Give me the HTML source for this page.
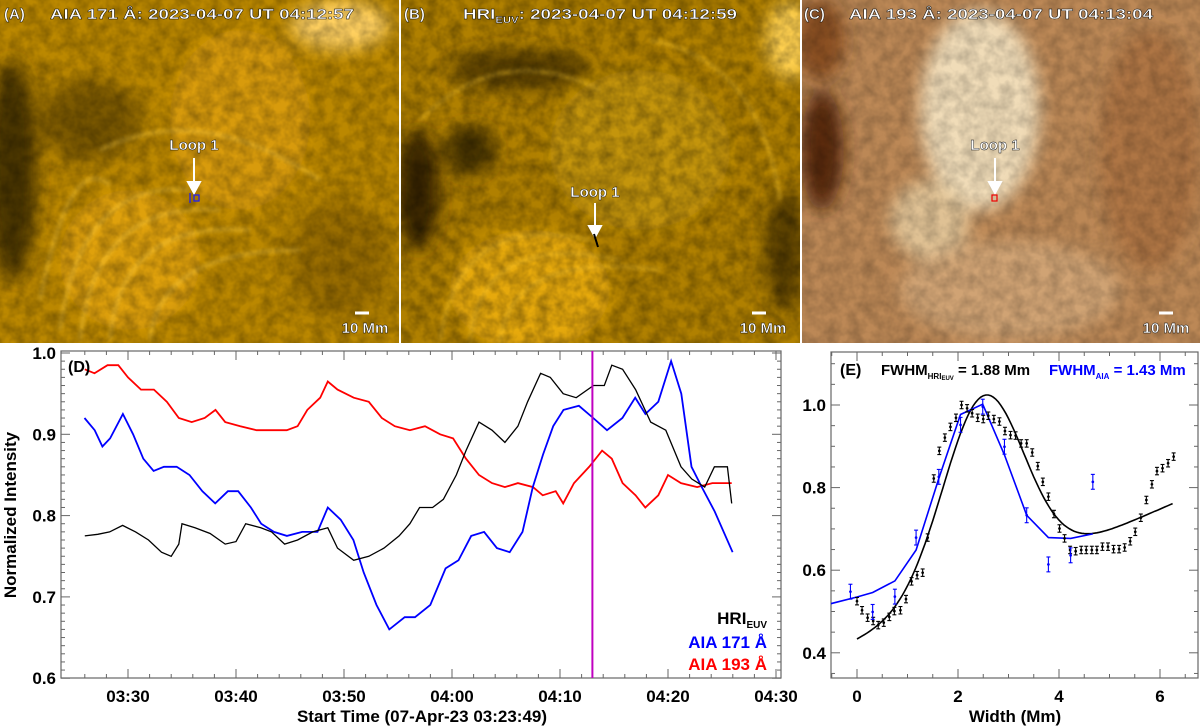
<!DOCTYPE html>
<html><head><meta charset="utf-8"><style>
html,body{margin:0;padding:0;background:#fff;}
svg{display:block;font-family:"Liberation Sans",sans-serif;font-weight:bold;}
</style></head><body>
<svg id="fig" width="1200" height="726" viewBox="0 0 1200 726">
<defs>
<filter id="blur8"><feGaussianBlur stdDeviation="8"/></filter>
<filter id="blur3"><feGaussianBlur stdDeviation="2"/></filter>
<filter id="tex" x="0" y="0" width="100%" height="100%"><feTurbulence type="fractalNoise" baseFrequency="0.08" numOctaves="3" seed="3"/><feColorMatrix type="matrix" values="0 0 0 0 0  0 0 0 0 0  0 0 0 0 0  0 0 0 -1.4 1.0"/></filter>
<clipPath id="cA"><rect x="0" y="0" width="399" height="343"/></clipPath>
<clipPath id="cB"><rect x="401" y="0" width="399" height="343"/></clipPath>
<clipPath id="cC"><rect x="802" y="0" width="398" height="343"/></clipPath>
<clipPath id="cD"><rect x="61" y="351" width="720" height="327"/></clipPath>
<clipPath id="cE"><rect x="831" y="352" width="367" height="326"/></clipPath>
</defs>

<!-- Panel A -->
<g clip-path="url(#cA)">
<rect x="0" y="0" width="399" height="343" fill="#bb8800"/>
<g filter="url(#blur8)">
<ellipse cx="12" cy="170" rx="25" ry="110" fill="#4a3400"/>
<ellipse cx="90" cy="120" rx="50" ry="40" fill="#7a5800"/>
<ellipse cx="340" cy="260" rx="50" ry="60" fill="#8a6200" opacity="0.7"/>
<ellipse cx="340" cy="25" rx="50" ry="25" fill="#ffd060"/>
<ellipse cx="240" cy="120" rx="70" ry="90" fill="#e0a010" opacity="0.8"/>
<ellipse cx="130" cy="260" rx="70" ry="70" fill="#e8a810" opacity="0.8"/>
</g>
<g fill="none" stroke="#ffd24a" stroke-width="3" opacity="0.55" filter="url(#blur3)">
<path d="M60 330 Q80 180 190 190"/><path d="M80 340 Q95 200 220 210"/><path d="M110 340 Q120 220 250 230"/>
<path d="M40 300 Q70 150 110 185"/><path d="M150 340 Q160 250 300 250"/><path d="M100 150 Q200 100 320 180"/>
</g>
<rect x="0" y="0" width="399" height="343" filter="url(#tex)" opacity="0.35"/>
</g>

<!-- Panel B -->
<g clip-path="url(#cB)">
<rect x="401" y="0" width="399" height="343" fill="#b08000"/>
<g filter="url(#blur8)">
<ellipse cx="418" cy="190" rx="22" ry="60" fill="#3a2800"/>
<ellipse cx="520" cy="70" rx="70" ry="20" fill="#5a4000"/>
<ellipse cx="470" cy="150" rx="25" ry="25" fill="#4a3400"/>
<ellipse cx="785" cy="250" rx="20" ry="60" fill="#5a4000"/>
<ellipse cx="790" cy="40" rx="25" ry="40" fill="#ffd050"/>
<ellipse cx="640" cy="150" rx="90" ry="80" fill="#c99a10" opacity="0.8"/>
<ellipse cx="530" cy="290" rx="80" ry="60" fill="#f0b010" opacity="0.85"/>
</g>
<g fill="none" stroke="#ffcc30" stroke-width="3" opacity="0.55" filter="url(#blur3)">
<path d="M440 340 Q460 210 590 240"/><path d="M470 343 Q480 230 620 260"/><path d="M500 343 Q510 250 660 270"/>
<path d="M420 120 Q500 40 600 90"/><path d="M650 40 Q760 60 780 200"/>
</g>
<rect x="401" y="0" width="399" height="343" filter="url(#tex)" opacity="0.4"/>
</g>

<!-- Panel C -->
<g clip-path="url(#cC)">
<rect x="802" y="0" width="398" height="343" fill="#bc8856"/>
<g filter="url(#blur8)">
<ellipse cx="822" cy="150" rx="22" ry="60" fill="#5a2a08"/>
<ellipse cx="820" cy="40" rx="25" ry="40" fill="#8a5020"/>
<ellipse cx="980" cy="110" rx="60" ry="100" fill="#f0dcb8"/>
<ellipse cx="930" cy="220" rx="40" ry="40" fill="#e8cfa4" opacity="0.8"/>
<ellipse cx="1150" cy="150" rx="50" ry="120" fill="#a86c3c" opacity="0.7"/>
<ellipse cx="1010" cy="290" rx="110" ry="50" fill="#d4aa7c" opacity="0.8"/>
</g>
<rect x="802" y="0" width="398" height="343" filter="url(#tex)" opacity="0.25"/>
</g>

<!-- image annotations -->
<g fill="#fff" stroke="#000" stroke-width="0.4" font-size="15">
<text x="4" y="19">(A)</text>
<text x="50" y="19" textLength="304" lengthAdjust="spacingAndGlyphs">AIA 171 Å: 2023-04-07 UT 04:12:57</text>
<text x="404" y="19">(B)</text>
<text x="463" y="19" textLength="274" lengthAdjust="spacingAndGlyphs">HRI<tspan font-size="9" dy="4">EUV</tspan><tspan dy="-4">: 2023-04-07 UT 04:12:59</tspan></text>
<text x="804" y="19">(C)</text>
<text x="849" y="19" textLength="304" lengthAdjust="spacingAndGlyphs">AIA 193 Å: 2023-04-07 UT 04:13:04</text>
<text x="194" y="150" text-anchor="middle">Loop 1</text>
<text x="595" y="197" text-anchor="middle">Loop 1</text>
<text x="995" y="150" text-anchor="middle">Loop 1</text>
<text x="365" y="333" text-anchor="middle">10 Mm</text>
<text x="763" y="333" text-anchor="middle">10 Mm</text>
<text x="1166" y="333" text-anchor="middle">10 Mm</text>
</g>
<g stroke="#fff" stroke-width="2" fill="#fff">
<line x1="194" y1="158" x2="194" y2="184"/><polygon points="188,182 200,182 194,193"/>
<line x1="595" y1="203" x2="595" y2="228"/><polygon points="589,226 601,226 595,237"/>
<line x1="995" y1="158" x2="995" y2="184"/><polygon points="989,182 1001,182 995,193"/>
<line x1="355" y1="313" x2="369" y2="313" stroke-width="3"/>
<line x1="752" y1="313" x2="766" y2="313" stroke-width="3"/>
<line x1="1159" y1="313" x2="1173" y2="313" stroke-width="3"/>
</g>
<rect x="194" y="195" width="5" height="6" fill="none" stroke="#1a1aff" stroke-width="1.2"/>
<line x1="190" y1="193" x2="190" y2="203" stroke="#1a1aff" stroke-width="1.2"/>
<line x1="594" y1="234" x2="598" y2="247" stroke="#000" stroke-width="2"/>
<rect x="992" y="195" width="5" height="6" fill="none" stroke="#e00" stroke-width="1.2"/>

<g id="chartD"></g>
<g id="chartE"></g>
</svg>
<script>
// ---------- Panel D data (time in minutes after 03:00) ----------
const hriT = [26.0,27.2,28.3,29.5,30.7,31.9,33.1,34.0,34.7,35.0,36.2,37.6,39.0,40.0,40.9,42.3,43.3,44.5,45.7,47.1,48.5,49.4,50.9,52.3,53.7,55.1,56.1,57.0,58.2,59.2,60.4,61.3,62.5,63.7,64.9,66.1,67.0,68.2,69.1,70.3,71.5,73.1,74.1,74.8,75.8,77.0,78.4,79.8,81.2,82.2,83.4,84.3,85.5,85.9];
const hriV = [0.775,0.777,0.78,0.788,0.78,0.77,0.755,0.75,0.765,0.79,0.785,0.778,0.765,0.768,0.79,0.785,0.78,0.765,0.77,0.78,0.785,0.76,0.745,0.75,0.76,0.775,0.79,0.81,0.81,0.82,0.85,0.88,0.915,0.905,0.89,0.91,0.94,0.975,0.97,0.95,0.945,0.96,0.96,0.985,0.98,0.955,0.915,0.905,0.86,0.845,0.835,0.86,0.86,0.815];
const a171T = [25.97,26.92,27.63,28.34,29.53,30.47,31.42,32.37,33.32,34.51,35.69,36.88,38.07,39.25,40.2,41.38,42.33,43.52,44.71,46.13,47.55,48.5,49.69,50.87,51.82,53.01,54.19,55.62,56.57,57.99,59.41,60.6,61.78,62.97,64.16,65.34,66.53,67.48,68.43,69.37,70.32,71.75,73.07,74.35,75.78,76.96,77.91,79.1,80.29,81.23,82.18,83.13,84.32,85.98];
const a171V = [0.92,0.905,0.885,0.895,0.925,0.9,0.87,0.855,0.86,0.86,0.85,0.83,0.815,0.83,0.83,0.81,0.79,0.78,0.775,0.78,0.78,0.81,0.795,0.77,0.73,0.69,0.66,0.675,0.675,0.69,0.735,0.745,0.775,0.78,0.76,0.755,0.78,0.835,0.875,0.91,0.93,0.935,0.92,0.905,0.92,0.945,0.925,0.94,0.99,0.95,0.86,0.835,0.805,0.755];
const a193T = [26.0,26.9,28.1,29.1,30.0,31.2,32.4,33.6,34.7,35.9,37.1,38.1,39.0,40.4,41.9,43.3,44.7,45.7,46.6,47.8,48.5,49.4,50.9,52.3,53.5,54.7,56.1,57.5,58.9,60.1,61.3,62.5,63.7,64.9,66.1,67.5,68.4,69.6,70.3,71.3,72.7,73.9,74.8,75.8,77.0,77.9,79.1,80.0,81.2,82.7,84.1,85.9];
const a193V = [0.98,0.975,0.985,0.985,0.97,0.955,0.955,0.94,0.92,0.915,0.92,0.93,0.915,0.91,0.905,0.905,0.905,0.91,0.93,0.945,0.965,0.955,0.945,0.94,0.92,0.91,0.905,0.91,0.9,0.895,0.87,0.85,0.84,0.835,0.84,0.835,0.825,0.83,0.815,0.84,0.86,0.88,0.87,0.84,0.825,0.81,0.825,0.85,0.84,0.835,0.84,0.84];
const dTickT = [30,40,50,60,70,80,90];
const dTickLabels = ["03:30","03:40","03:50","04:00","04:10","04:20","04:30"];
const dYTicks = [0.6,0.7,0.8,0.9,1.0];
const dYLabels = ["0.6","0.7","0.8","0.9","1.0"];
const markerT = [73.0];

// ---------- Panel E data ----------
const hriW = [0,0.1,0.21,0.32,0.42,0.53,0.64,0.74,0.86,0.97,1.08,1.19,1.3,1.4,1.52,1.63,1.74,1.85,1.96,2.07,2.18,2.28,2.39,2.5,2.6,2.71,2.82,2.93,3.04,3.14,3.25,3.36,3.47,3.58,3.68,3.79,3.9,4.01,4.11,4.22,4.33,4.44,4.54,4.65,4.75,4.86,4.97,5.08,5.19,5.3,5.41,5.51,5.62,5.73,5.84,5.94,6.05,6.16,6.27];
const hriI = [0.525,0.503,0.485,0.477,0.467,0.473,0.487,0.501,0.503,0.53,0.573,0.588,0.594,0.679,0.822,0.889,0.921,0.947,0.969,1.0,0.992,0.98,0.969,0.966,0.974,0.966,0.96,0.937,0.927,0.926,0.907,0.907,0.885,0.852,0.814,0.778,0.736,0.701,0.677,0.649,0.646,0.649,0.649,0.649,0.649,0.657,0.657,0.651,0.651,0.655,0.67,0.693,0.727,0.77,0.808,0.84,0.847,0.859,0.875];
const aiaW = [-0.13,0.31,0.75,1.17,1.62,2.05,2.49,2.92,3.36,3.79,4.23,4.67];
const aiaI = [0.548,0.499,0.536,0.679,0.826,0.952,0.996,0.899,0.733,0.614,0.636,0.814];
const aiaFitW = [-0.52,0,0.31,0.75,1.17,1.62,2.05,2.49,2.92,3.36,3.79,4.23,4.67];
const aiaFitI = [0.519,0.535,0.546,0.574,0.649,0.822,0.977,1.002,0.879,0.733,0.679,0.677,0.688];
// Gaussian + linear fit parameters: [amplitude, center, sigma, intercept, slope]
const hriFitParams = [0.46,2.5,0.8,0.43,0.053];
const hriFitRange = [0,6.27];
const eXTicks = [0,2,4,6];
const eYTicks = [0.4,0.6,0.8,1.0];
const eYLabels = ["0.4","0.6","0.8","1.0"];

const NS = "http://www.w3.org/2000/svg";
function mk(parent, tag, attrs){ const e=document.createElementNS(NS,tag); for(const k in attrs) e.setAttribute(k,attrs[k]); parent.appendChild(e); return e; }

// ---- Panel D ----
const D = document.getElementById('chartD');
const dx = t => 128 + (t-30)*10.8;
const dy = v => 353 + (1-v)*813;
mk(D,'rect',{x:61,y:351,width:720,height:327,fill:'#fff',stroke:'#666','stroke-width':1.2});
for(let t=26;t<=90;t+=2){ const big=(t%10===0);
  mk(D,'line',{x1:dx(t),x2:dx(t),y1:678,y2:678-(big?9:4),stroke:'#666'});
  mk(D,'line',{x1:dx(t),x2:dx(t),y1:351,y2:351+(big?9:4),stroke:'#666'}); }
for(let k=0;k<=40;k++){ const v=0.6+k*0.01; const big=(k%10===0);
  mk(D,'line',{x1:61,x2:61+(big?9:4),y1:dy(v),y2:dy(v),stroke:'#666'});
  mk(D,'line',{x1:781,x2:781-(big?9:4),y1:dy(v),y2:dy(v),stroke:'#666'}); }
dTickT.forEach((t,i)=>{ const tx=mk(D,'text',{x:dx(t),y:702,'text-anchor':'middle','font-size':17,fill:'#000'}); tx.textContent=dTickLabels[i];
    });
dYTicks.forEach((v,i)=>{ const tx=mk(D,'text',{x:56,y:dy(v)+6,'text-anchor':'end','font-size':17,fill:'#000'}); tx.textContent=dYLabels[i];
    });
function series(g,T,V,color,name){ const p=T.map((t,i)=>(i?'L':'M')+dx(t).toFixed(1)+' '+dy(V[i]).toFixed(1)).join(' ');
  const e=mk(g,'path',{d:p,fill:'none',stroke:color,'stroke-width':color==='#000'?1.3:1.8,'clip-path':'url(#cD)'});
    }
series(D,a193T,a193V,'#f00','aia193-line');
series(D,a171T,a171V,'#00f','aia171-line');
series(D,hriT,hriV,'#000','hri-line');
markerT.forEach(t=>{ const m=mk(D,'line',{x1:dx(t),x2:dx(t),y1:351,y2:678,stroke:'#c000c0','stroke-width':2});
    });
let t1=mk(D,'text',{x:68,y:372,'font-size':16,fill:'#000'}); t1.textContent='(D)';
 
let yt=mk(D,'text',{x:0,y:0,'font-size':17,fill:'#000','text-anchor':'middle',transform:'translate(16,515) rotate(-90)'}); yt.textContent='Normalized Intensity';
 
let xt=mk(D,'text',{x:422,y:722,'font-size':17,fill:'#000','text-anchor':'middle'}); xt.textContent='Start Time (07-Apr-23 03:23:49)';
 
let l1=mk(D,'text',{x:767,y:624,'font-size':17,fill:'#000','text-anchor':'end'}); l1.innerHTML='HRI<tspan font-size="10" dy="4">EUV</tspan>';
 
let l2=mk(D,'text',{x:767,y:648,'font-size':17,fill:'#00f','text-anchor':'end'}); l2.textContent='AIA 171 Å';
 
let l3=mk(D,'text',{x:767,y:670,'font-size':17,fill:'#f00','text-anchor':'end'}); l3.textContent='AIA 193 Å';
 

// ---- Panel E ----
const E = document.getElementById('chartE');
const ex = w => 857 + w*50.5;
const ey = v => 405 + (1-v)*413;
mk(E,'rect',{x:831,y:352,width:367,height:326,fill:'#fff',stroke:'#666','stroke-width':1.2});
for(let k=-1;k<=13;k++){ const w=k*0.5; if(ex(w)<831||ex(w)>1198) continue; const big=(k%4===0);
  mk(E,'line',{x1:ex(w),x2:ex(w),y1:678,y2:678-(big?9:4),stroke:'#666'});
  mk(E,'line',{x1:ex(w),x2:ex(w),y1:352,y2:352+(big?9:4),stroke:'#666'}); }
for(let k=0;k<=15;k++){ const v=0.35+k*0.05; if(ey(v)<352||ey(v)>678) continue; const big=(Math.abs(v*10-Math.round(v*10))<1e-6 && Math.round(v*10)%2===0);
  mk(E,'line',{x1:831,x2:831+(big?9:4),y1:ey(v),y2:ey(v),stroke:'#666'});
  mk(E,'line',{x1:1198,x2:1198-(big?9:4),y1:ey(v),y2:ey(v),stroke:'#666'}); }
eXTicks.forEach(w=>{ const tx=mk(E,'text',{x:ex(w),y:702,'text-anchor':'middle','font-size':17,fill:'#000'}); tx.textContent=String(w);
    });
eYTicks.forEach((v,i)=>{ const tx=mk(E,'text',{x:826,y:ey(v)+6,'text-anchor':'end','font-size':17,fill:'#000'}); tx.textContent=eYLabels[i];
    });
const g=E.appendChild(document.createElementNS(NS,'g')); g.setAttribute('clip-path','url(#cE)');
let pts=[]; const [A,c,s,b0,b1]=hriFitParams;
for(let w=hriFitRange[0]; w<=hriFitRange[1]+1e-9; w+=0.05){ const v=A*Math.exp(-((w-c)*(w-c))/(2*s*s))+b0+b1*w; pts.push(ex(w).toFixed(1)+' '+ey(v).toFixed(1)); }
let fk=mk(g,'path',{d:'M'+pts.join(' L'),fill:'none',stroke:'#000','stroke-width':1.6});
 
let fb=mk(g,'path',{d:aiaFitW.map((w,i)=>(i?'L':'M')+ex(w).toFixed(1)+' '+ey(aiaFitI[i]).toFixed(1)).join(' '),fill:'none',stroke:'#00f','stroke-width':1.6});
 
function errbar(w,v,e,color,name){ const X=ex(w), y1=ey(v+e), y2=ey(v-e);
  const gg=mk(g,'g',{stroke:color,'stroke-width':1.1});
   
  mk(gg,'line',{x1:X,x2:X,y1:y1,y2:y2}); mk(gg,'line',{x1:X-2,x2:X+2,y1:y1,y2:y1}); mk(gg,'line',{x1:X-2,x2:X+2,y1:y2,y2:y2});
  mk(gg,'circle',{cx:X,cy:ey(v),r:0.8,fill:color}); }
hriW.forEach((w,i)=>errbar(w,hriI[i],0.009,'#000','hri-point'));
aiaW.forEach((w,i)=>errbar(w,aiaI[i],0.018,'#00f','aia-point'));
let el=mk(E,'text',{x:840,y:375,'font-size':16,fill:'#000'}); el.textContent='(E)';
 
let f1=mk(E,'text',{x:881,y:375,'font-size':15,fill:'#000'}); f1.innerHTML='FWHM<tspan font-size="8" dy="4">HRI</tspan><tspan font-size="6" dy="1">EUV</tspan><tspan dy="-5"> = 1.88 Mm</tspan>';
 
let f2=mk(E,'text',{x:1049,y:375,'font-size':15,fill:'#00f'}); f2.innerHTML='FWHM<tspan font-size="8" dy="4">AIA</tspan><tspan dy="-4"> = 1.43 Mm</tspan>';
 
let ext=mk(E,'text',{x:1015,y:722,'font-size':17,fill:'#000','text-anchor':'middle'}); ext.textContent='Width (Mm)';
 
</script>
</body></html>
